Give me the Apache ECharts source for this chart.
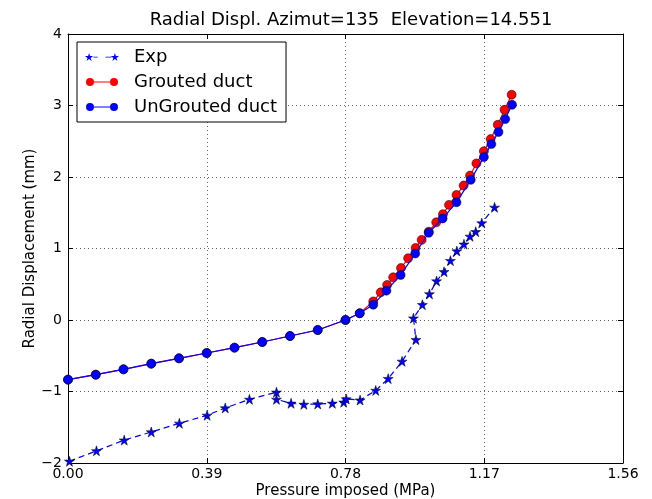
<!DOCTYPE html>
<html><head><meta charset="utf-8">
<script src="https://cdn.jsdelivr.net/npm/echarts@6/dist/echarts.min.js"></script>
<style>html,body{margin:0;padding:0;background:#fff;width:652px;height:499px;overflow:hidden}#c{position:absolute;left:0;top:0;width:652px;height:499px}</style>
</head><body><div id="c"></div>
<script>
const titleText = 'Radial Displ. Azimut=135  Elevation=14.551';
const xTicks = [0, 0.39, 0.78, 1.17, 1.56];
const yTicks = [-2, -1, 0, 1, 2, 3, 4];

const expData = [
  [0.004,-1.976],[0.08,-1.83],[0.158,-1.68],[0.234,-1.566],[0.313,-1.445],[0.391,-1.333],
  [0.442,-1.23],[0.51,-1.11],[0.586,-1.01],[0.586,-1.11],[0.627,-1.165],[0.663,-1.18],
  [0.702,-1.175],[0.743,-1.165],[0.775,-1.15],[0.782,-1.105],[0.821,-1.12],[0.865,-0.985],
  [0.9,-0.82],[0.939,-0.578],[0.978,-0.275],[0.971,0.026],[0.996,0.214],[1.016,0.365],
  [1.036,0.545],[1.057,0.675],[1.075,0.83],[1.093,0.965],[1.113,1.06],[1.13,1.17],
  [1.146,1.235],[1.163,1.357],[1.199,1.576]
];
const groutedData = [
  [0,-0.834],[0.078,-0.765],[0.156,-0.69],[0.234,-0.611],[0.312,-0.536],[0.39,-0.462],
  [0.468,-0.387],[0.546,-0.308],[0.624,-0.224],[0.702,-0.14],[0.78,0.0],[0.82,0.094],
  [0.858,0.26],[0.879,0.387],[0.897,0.49],[0.914,0.597],[0.936,0.727],[0.956,0.863],
  [0.977,1.007],[0.994,1.12],[1.014,1.235],[1.035,1.366],[1.054,1.48],[1.071,1.61],
  [1.092,1.748],[1.112,1.88],[1.13,2.02],[1.148,2.19],[1.169,2.36],[1.188,2.53],
  [1.208,2.73],[1.227,2.94],[1.247,3.15]
];
const ungroutedData = [
  [0,-0.834],[0.078,-0.765],[0.156,-0.69],[0.234,-0.611],[0.312,-0.536],[0.39,-0.462],
  [0.468,-0.387],[0.546,-0.308],[0.624,-0.224],[0.702,-0.14],[0.78,0.0],[0.82,0.094],
  [0.858,0.214],[0.895,0.41],[0.935,0.63],[0.976,0.93],[1.014,1.22],[1.053,1.42],
  [1.092,1.646],[1.132,1.96],[1.169,2.28],[1.19,2.46],[1.21,2.63],[1.229,2.81],[1.248,3.01]
];

const FONT = 'DejaVu Sans';
const star = 'path://M0 -100 L22.45 -30.9 L95.1 -30.9 L36.3 11.8 L58.8 80.9 L0 38.2 L-58.8 80.9 L-36.3 11.8 L-95.1 -30.9 L-22.45 -30.9 Z';
const starIcon = 'path://M50 0 L61.2 34.5 L97.6 34.5 L68.2 55.9 L79.4 90.5 L50 69.1 L20.6 90.5 L31.8 55.9 L2.4 34.5 L38.8 34.5 Z' +
  ' M350 0 L361.2 34.5 L397.6 34.5 L368.2 55.9 L379.4 90.5 L350 69.1 L320.6 90.5 L331.8 55.9 L302.4 34.5 L338.8 34.5 Z' +
  ' M100 42 L150 42 L150 50 L100 50 Z M240 42 L310 42 L310 50 L240 50 Z';
const circIcon = 'path://M0 50 A50 50 0 1 0 100 50 A50 50 0 1 0 0 50 Z M300 50 A50 50 0 1 0 400 50 A50 50 0 1 0 300 50 Z M100 45 L300 45 L300 55 L100 55 Z';

const chart = echarts.init(document.getElementById('c'), null, {renderer:'canvas', width:652, height:499});
const minus = v => String(v).replace('-', '\u2212');
const axisCommon = {
  axisLine:{show:true, onZero:false, lineStyle:{color:'#000', width:1}},
  axisTick:{show:true, inside:true, length:5, lineStyle:{color:'#000'}},
};
chart.setOption({
  animation:false,
  title:{text:titleText, left:346, top:6, textAlign:'center',
    textStyle:{fontFamily:FONT, fontSize:18, fontWeight:'normal', color:'#000'}},
  grid:{left:68, width:555, top:34, height:429, containLabel:false, outerBoundsMode:'none'},
  legend:{
    orient:'vertical', left:77, top:42, padding:[6,9,6,8], itemGap:7,
    itemWidth:34, itemHeight:8, borderColor:'#000', borderWidth:1, backgroundColor:'#fff',
    textStyle:{fontFamily:FONT, fontSize:18, color:'#000', padding:[0,0,0,10]},
    data:[
      {name:'Exp', icon:starIcon, itemStyle:{color:'#0000ff', borderWidth:0}},
      {name:'Grouted duct', icon:circIcon, itemStyle:{color:'#ff0000', borderWidth:0}},
      {name:'UnGrouted duct', icon:circIcon, itemStyle:{color:'#0000ff', borderWidth:0}}
    ]
  },
  xAxis:[{
    type:'value', min:0, max:1.56, interval:0.39, position:'bottom',
    name:'Pressure imposed (MPa)', nameLocation:'middle', nameGap:21, nameMoveOverlap:false,
    nameTextStyle:{fontFamily:FONT, fontSize:15, color:'#000'},
    axisLabel:{fontFamily:FONT, fontSize:14, color:'#000', margin:4, formatter:v=>v.toFixed(2)},
    splitLine:{show:true, lineStyle:{color:'#666', type:[1,3], width:1}},
    ...axisCommon
  },{
    type:'value', min:0, max:1.56, interval:0.39, position:'top',
    axisLabel:{show:false}, splitLine:{show:false}, ...axisCommon
  }],
  yAxis:[{
    type:'value', min:-2, max:4, interval:1, position:'left',
    name:'Radial Displacement (mm)', nameLocation:'middle', nameGap:30, nameMoveOverlap:false,
    nameTextStyle:{fontFamily:FONT, fontSize:15, color:'#000'},
    axisLabel:{fontFamily:FONT, fontSize:14, color:'#000', margin:6, formatter:minus},
    splitLine:{show:true, lineStyle:{color:'#666', type:[1,3], width:1}},
    ...axisCommon
  },{
    type:'value', min:-2, max:4, interval:1, position:'right',
    axisLabel:{show:false}, splitLine:{show:false}, ...axisCommon
  }],
  series:[
    {name:'Exp', type:'line', data:expData, symbol:star, symbolSize:10,
      lineStyle:{color:'#0000ff', width:1.2, type:[6,4]},
      itemStyle:{color:'#0000ff', borderColor:'#000', borderWidth:0.5}, z:2},
    {name:'Grouted duct', type:'line', data:groutedData, symbol:'circle', symbolSize:9,
      lineStyle:{color:'#ff0000', width:1.2},
      itemStyle:{color:'#ff0000', borderColor:'#000', borderWidth:0.5}, z:3},
    {name:'UnGrouted duct', type:'line', data:ungroutedData, symbol:'circle', symbolSize:9,
      lineStyle:{color:'#0000ff', width:1.2},
      itemStyle:{color:'#0000ff', borderColor:'#000', borderWidth:0.5}, z:4}
  ]
});
</script></body></html>
